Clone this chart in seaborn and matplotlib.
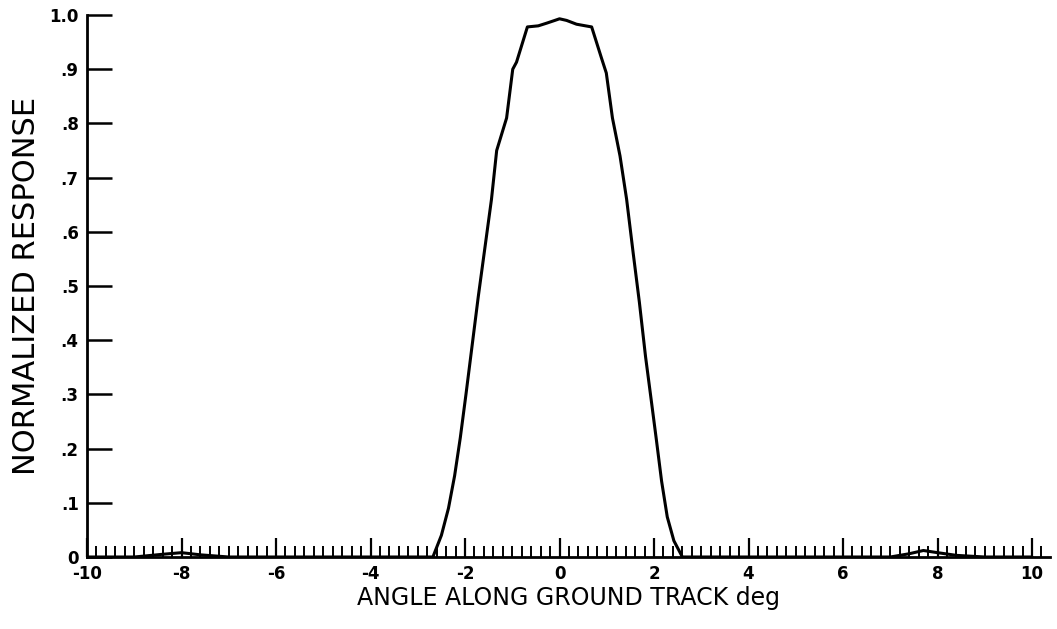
import matplotlib.pyplot as plt
import seaborn as sns
import pandas as pd
from matplotlib.ticker import MultipleLocator

# beam pattern
angle = [-10.0, -9.0, -8.4, -8.0, -7.6, -7.0, -5.0, -4.0, -3.0, -2.68,
         -2.5, -2.35, -2.22, -2.1, -1.98, -1.85, -1.72, -1.58, -1.44, -1.33,
         -1.12, -0.99, -0.91, -0.68, -0.45, -0.27, -0.1, 0.0, 0.15, 0.36,
         0.55, 0.68, 0.89, 0.99, 1.12, 1.28, 1.42, 1.56, 1.69, 1.82, 1.94,
         2.05, 2.16, 2.28, 2.42, 2.6, 3.0, 4.0, 5.0, 6.0, 7.0, 7.4, 7.7,
         8.0, 8.4, 9.0, 10.0]
response = [0.0, 0.0, 0.005, 0.008, 0.004, 0.0, 0.0, 0.0, 0.0, 0.0,
            0.04, 0.09, 0.15, 0.22, 0.30, 0.39, 0.48, 0.57, 0.66, 0.75,
            0.81, 0.90, 0.913, 0.978, 0.98, 0.985, 0.99, 0.993, 0.99, 0.983,
            0.98, 0.978, 0.92, 0.893, 0.81, 0.74, 0.66, 0.56, 0.47, 0.37, 0.29,
            0.216, 0.14, 0.074, 0.03, 0.0, 0.0, 0.0, 0.0, 0.0, 0.0, 0.006, 0.012,
            0.008, 0.003, 0.0, 0.0]

x_ticks = [-10, -8, -6, -4, -2, 0, 2, 4, 6, 8, 10]
y_ticks = [0, 0.1, 0.2, 0.3, 0.4, 0.5, 0.6, 0.7, 0.8, 0.9, 1.0]
y_tick_labels = ["0", ".1", ".2", ".3", ".4", ".5", ".6", ".7", ".8", ".9", "1.0"]

sns.set_theme(style="white")
plt.rcParams["font.family"] = ["DejaVu Sans"]

df = pd.DataFrame({"angle": angle, "response": response})

fig = plt.figure(figsize=(10.57, 6.29), dpi=100)
ax = fig.add_axes([87 / 1057, 1 - 557 / 629, (1050 - 87) / 1057, (557 - 15) / 629])
sns.lineplot(data=df, x="angle", y="response", ax=ax, color="black", linewidth=2.2)

ax.set_xlim(-10, 10.38)
ax.set_ylim(0, 1.0)
for s in ["top", "right"]:
    ax.spines[s].set_visible(False)
for s in ["left", "bottom"]:
    ax.spines[s].set_color("black")
    ax.spines[s].set_linewidth(2.0)

ax.set_xticks(x_ticks)
ax.set_xticklabels([str(t) for t in x_ticks], fontweight="bold", fontsize=12)
ax.xaxis.set_minor_locator(MultipleLocator(0.2))
ax.set_yticks(y_ticks)
ax.set_yticklabels(y_tick_labels, fontweight="bold", fontsize=12)

ax.tick_params(axis="x", which="major", direction="in", length=14, width=1.6,
               color="black", pad=6, labelcolor="black", bottom=True)
ax.tick_params(axis="x", which="minor", direction="in", length=8, width=1.4,
               color="black", bottom=True)
ax.tick_params(axis="y", which="major", direction="in", length=18, width=1.8,
               color="black", pad=6, labelcolor="black", left=True)

ax.set_xlabel("ANGLE ALONG GROUND TRACK deg", fontsize=17, color="black", labelpad=2)
ax.set_ylabel("NORMALIZED RESPONSE", fontsize=22, color="black", labelpad=6)

fig.savefig("out.png", dpi=100)
